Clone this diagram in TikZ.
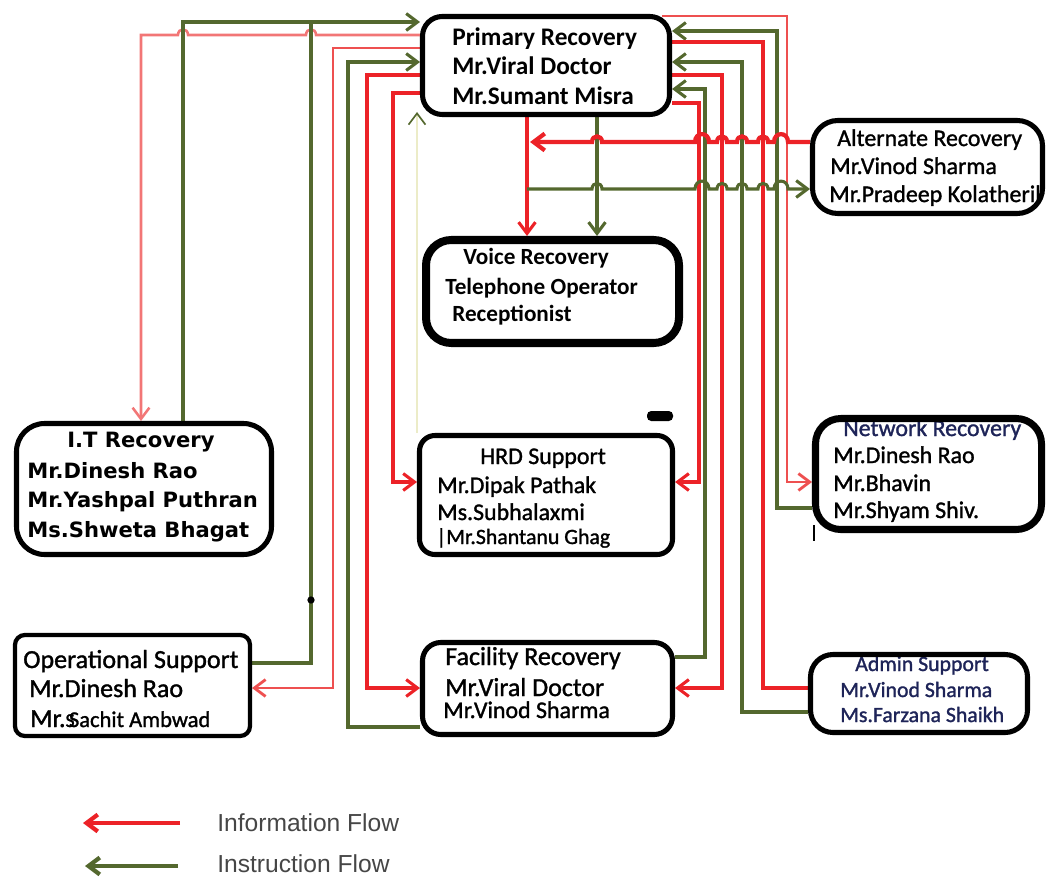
\documentclass[tikz,border=0pt]{standalone}
\usepackage{fontspec}
\setmainfont{Carlito}
\newfontfamily\medfont{Carlito}[FakeBold=1.3]
\newfontfamily\itfont{DejaVu Sans}
\newfontfamily\legfont{Liberation Sans}
\usetikzlibrary{arrows.meta,fit}

\definecolor{infored}{RGB}{236,34,39}
\definecolor{infopink}{RGB}{242,118,118}
\definecolor{infomid}{RGB}{238,80,80}
\definecolor{instrgreen}{RGB}{84,104,46}
\definecolor{navytext}{RGB}{30,36,88}
\definecolor{faintline}{RGB}{236,236,200}
\definecolor{legendgray}{RGB}{70,70,70}

% line hops: centre x, line y, half width
\newcommand\hopL[3]{-- (#1+#3,#2) .. controls (#1+#3,#2-1.5*#3) and (#1-#3,#2-1.5*#3) .. (#1-#3,#2)}
\newcommand\hopR[3]{-- (#1-#3,#2) .. controls (#1-#3,#2-1.5*#3) and (#1+#3,#2-1.5*#3) .. (#1+#3,#2)}

\begin{document}
\begin{tikzpicture}[x=0.025cm,y=-0.025cm,
  >={Straight Barb[length=8pt,width=12pt]},
  box/.style={draw=black, line width=3.6pt, rounded corners=14pt, inner sep=0pt},
  area/.style={inner sep=0pt, outer sep=0pt},
  txt/.style={anchor=base west, inner sep=0pt, text=black},
  info/.style={draw=infored, line width=2.2pt},
  infothick/.style={draw=infored, line width=3pt},
  infolight/.style={draw=infopink, line width=1.8pt},
  infomed/.style={draw=infomid, line width=2pt},
  instr/.style={draw=instrgreen, line width=2.2pt},
  fprim/.style={font=\fontsize{18}{21}\selectfont\bfseries},
  fvoice/.style={font=\fontsize{16.5}{20}\selectfont\bfseries},
  freg/.style={font=\fontsize{17}{20}\selectfont\medfont},
  fbig/.style={font=\fontsize{18.5}{22}\selectfont\medfont},
  fsmall/.style={font=\fontsize{15.5}{18}\selectfont\medfont},
  fverd/.style={font=\fontsize{15}{18}\selectfont\itfont\bfseries},
  fleg/.style={font=\fontsize{17.5}{21}\selectfont\legfont, text=legendgray}
]
\useasboundingbox (0,0) rectangle (1049,879);

% ---------- box areas (outer edges) ----------
\node[area, fit={(420,14) (672,117)}] (prim) {};
\node[area, fit={(810,118) (1045,216)}] (alt) {};
\node[area, fit={(422,236) (683,347)}] (voice) {};
\node[area, fit={(14,421) (274,557)}] (it) {};
\node[area, fit={(417,433) (675,557)}] (hrd) {};
\node[area, fit={(812,415) (1045,533)}] (net) {};
\node[area, fit={(13,633) (252,738)}] (ops) {};
\node[area, fit={(420,640) (675,737)}] (fac) {};
\node[area, fit={(808,652) (1030,735)}] (adm) {};

% ---------- connectors, left side ----------
\draw[infolight,->] (prim.west |- 0,35) \hopL{311}{35}{5} \hopL{183}{35}{5} -- (141,35) -- (it.north -| 141,0);
\draw[instr,->] (it.north -| 183,0) -- (183,22) -- (prim.west |- 0,22);
\draw[instr] (ops.east |- 0,663) -- (311,663) -- (311,22);
\draw[infomed,->] (prim.west |- 0,48) -- (333,48) -- (333,688) -- (ops.east |- 0,688);
\draw[instr,->] (fac.west |- 0,727) -- (348,727) -- (348,62) -- (prim.west |- 0,62);
\draw[info,->] (prim.west |- 0,75) -- (367,75) -- (367,688) -- (fac.west |- 0,688);
\draw[info,->] (prim.west |- 0,93) -- (393,93) -- (393,482) -- (hrd.west |- 0,482);
\draw[draw=faintline, line width=1.2pt, -{Straight Barb[length=8pt,width=12pt,color=instrgreen]}]
  (hrd.north west) -- (hrd.north west |- 0,112);

% ---------- connectors, right side ----------
\draw[infomed,->] (prim.north east |- 0,16) ++(-10,0) -- (787,16) -- (787,482) -- (net.west |- 0,482);
\draw[instr,->] (net.west |- 0,508) -- (777,508) -- (777,31) -- (prim.east |- 0,31);
\draw[info] (adm.west |- 0,688) -- (763,688) -- (763,42) -- (prim.east |- 0,42);
\draw[instr,->] (adm.west |- 0,712) -- (742,712) -- (742,62) -- (prim.east |- 0,62);
\draw[info,->] (prim.east |- 0,75) -- (722,75) -- (722,688) -- (fac.east |- 0,688);
\draw[instr,->] (fac.east |- 0,657) -- (705,657) -- (705,89) -- (prim.east |- 0,89);
\draw[info,->] (prim.east |- 0,103) -- (699,103) -- (699,482) -- (hrd.east |- 0,482);

% ---------- primary to voice, alternate ----------
\coordinate (altin) at (530,142);
\coordinate (altout) at (527,189);
\draw[info,->] (prim.south -| 527,0) -- (voice.north -| 527,0);
\draw[instr,->] (prim.south -| 597,0) -- (voice.north -| 597,0);
\draw[infothick,<-] (altin) \hopR{597}{142}{5} \hopR{702}{142}{7} \hopR{722}{142}{5}
  \hopR{742}{142}{5} \hopR{763}{142}{5} \hopR{781}{142}{7} -- (alt.west |- 0,142);
\draw[instr,->] (altout) \hopR{597}{189}{5} \hopR{702}{189}{7} \hopR{722}{189}{5}
  \hopR{742}{189}{5} \hopR{763}{189}{5} \hopR{781}{189}{7} -- (alt.west |- 0,189);

% ---------- small marks ----------
\fill (311,600) circle[radius=2.6pt];
\fill[rounded corners=3pt] (647,411) rectangle (673,421);
\draw[line width=1pt] (814,525) -- (814,541);

% ---------- texts ----------
\node[txt,fprim] (p1) at (452,46) {Primary Recovery};
\node[txt,fprim] (p2) at (452,75) {Mr.Viral Doctor};
\node[txt,fprim] (p3) at (452,105) {Mr.Sumant Misra};

\node[txt,freg] (a1) at (837,146) {Alternate Recovery};
\node[txt,freg] (a2) at (830,174) {Mr.Vinod Sharma};
\node[txt,freg] (a3) at (829,202) {Mr.Pradeep Kolatheril};

\node[txt,fvoice] (v1) at (463,264) {Voice Recovery};
\node[txt,fvoice] (v2) at (445,294) {Telephone Operator};
\node[txt,fvoice] (v3) at (452,321) {Receptionist};

\node[txt,fverd] (i1) at (67,447) {I.T Recovery};
\node[txt,fverd] (i2) at (27,478) {Mr.Dinesh Rao};
\node[txt,fverd] (i3) at (27,507) {Mr.Yashpal Puthran};
\node[txt,fverd] (i4) at (27,537) {Ms.Shweta Bhagat};

\node[txt,freg] (h1) at (480,464) {HRD Support};
\node[txt,freg] (h2) at (437,493) {Mr.Dipak Pathak};
\node[txt,freg] (h3) at (437,520) {Ms.Subhalaxmi};
\node[txt,fsmall] (h4) at (436,544) {|Mr.Shantanu Ghag};

\node[txt,freg,text=navytext] (n1) at (843,436) {Network Recovery};
\node[txt,freg] (n2) at (833,463) {Mr.Dinesh Rao};
\node[txt,freg] (n3) at (833,491) {Mr.Bhavin};
\node[txt,freg] (n4) at (833,518) {Mr.Shyam Shiv.};

\node[txt,fbig] (o1) at (23,668) {Operational Support};
\node[txt,fbig] (o2) at (29,697) {Mr.Dinesh Rao};
\node[txt,fbig] (o3) at (30,727) {Mr.{\fontsize{14}{17}\selectfont S}\kern-4pt{\fontsize{16}{19}\selectfont Sachit Ambwad}};

\node[txt,fbig] (f1) at (445,665) {Facility Recovery};
\node[txt,fbig] (f2) at (445,696) {Mr.Viral Doctor};
\node[txt,freg] (f3) at (443,718) {Mr.Vinod Sharma};

\node[txt,fsmall,text=navytext] (d1) at (855,671) {Admin Support};
\node[txt,fsmall,text=navytext] (d2) at (840,697) {Mr.Vinod Sharma};
\node[txt,fsmall,text=navytext] (d3) at (840,722) {Ms.Farzana Shaikh};

% ---------- box outlines, inset by half the line width ----------
\draw[box, rounded corners=14pt] ([shift={(2.5,2.5)}]prim.north west) rectangle ([shift={(-2.5,-2.5)}]prim.south east);
\draw[box, rounded corners=18pt] ([shift={(2.5,2.5)}]alt.north west) rectangle ([shift={(-2.5,-2.5)}]alt.south east);
\draw[box, line width=5.7pt, rounded corners=18pt] ([shift={(4,4)}]voice.north west) rectangle ([shift={(-4,-4)}]voice.south east);
\draw[box, rounded corners=20pt] ([shift={(2.5,2.5)}]it.north west) rectangle ([shift={(-2.5,-2.5)}]it.south east);
\draw[box, rounded corners=11pt] ([shift={(2.5,2.5)}]hrd.north west) rectangle ([shift={(-2.5,-2.5)}]hrd.south east);
\draw[box, line width=5pt, rounded corners=18pt] ([shift={(3.5,3.5)}]net.north west) rectangle ([shift={(-3.5,-3.5)}]net.south east);
\draw[box, line width=3pt, rounded corners=7pt] ([shift={(2,2)}]ops.north west) rectangle ([shift={(-2,-2)}]ops.south east);
\draw[box, rounded corners=13pt] ([shift={(2.5,2.5)}]fac.north west) rectangle ([shift={(-2.5,-2.5)}]fac.south east);
\draw[box, rounded corners=16pt] ([shift={(2.5,2.5)}]adm.north west) rectangle ([shift={(-2.5,-2.5)}]adm.south east);

% ---------- legend ----------
\coordinate (li1) at (180,823);
\coordinate (li2) at (83,823);
\coordinate (ls1) at (178,866);
\coordinate (ls2) at (85,866);
\draw[info,line width=3pt,->] (li1) -- (li2);
\draw[instr,line width=3pt,->] (ls1) -- (ls2);
\node[txt,fleg] (lg1) at (217,831) {Information Flow};
\node[txt,fleg] (lg2) at (217,872) {Instruction Flow};
\end{tikzpicture}
\end{document}
